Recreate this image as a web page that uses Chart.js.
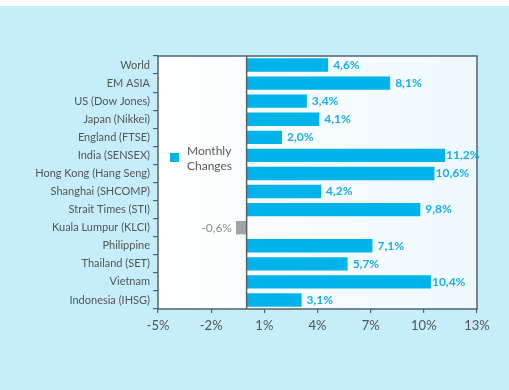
<!DOCTYPE html>
<html lang="en">

<head>
  <meta charset="UTF-8">
  <title>Monthly Changes</title>
  <script src="https://cdn.jsdelivr.net/npm/chart.js@4.4.0/dist/chart.umd.min.js"></script>
  <style>
    * {
      box-sizing: border-box;
      margin: 0;
      padding: 0;
    }

    body {
      width: 509px;
      height: 390px;
      background: #fff;
      overflow: hidden;
    }

    #wrap {
      position: absolute;
      left: 0;
      top: 6px;
      width: 509px;
      height: 384px;
      background: #c6eefa;
    }
  </style>
</head>

<body>
  <div id="wrap"><canvas id="myChart" width="509" height="384"></canvas></div>

  <script>
    const markets = ['World', 'EM ASIA', 'US (Dow Jones)', 'Japan (Nikkei)', 'England (FTSE)',
      'India (SENSEX)', 'Hong Kong (Hang Seng)', 'Shanghai (SHCOMP)', 'Strait Times (STI)',
      'Kuala Lumpur (KLCI)', 'Philippine', 'Thailand (SET)', 'Vietnam', 'Indonesia (IHSG)'];
    const changes = [4.6, 8.1, 3.4, 4.1, 2.0, 11.2, 10.6, 4.2, 9.8, -0.6, 7.1, 5.7, 10.4, 3.1];
    const xTicks = [-5, -2, 1, 4, 7, 10, 13];

    const FONT = 'Lato, sans-serif';
    const CYAN = '#00b3ea';
    const GREY = '#a3a3a3';
    const LINE = '#55616b';

    function fmt(v) {
      return v.toFixed(1).replace('.', ',') + '%';
    }

    // white plot area, frame, zero line, value labels and the little legend
    const decor = {
      id: 'decor',
      beforeDatasetsDraw(chart) {
        const { ctx, chartArea: a } = chart;
        ctx.save();
        let g = ctx.createLinearGradient(a.left, 0, a.right, 0);
        g.addColorStop(0, '#ffffff');
        g.addColorStop(1, '#eef9fd');
        ctx.fillStyle = g;
        ctx.fillRect(a.left, a.top, a.right - a.left, a.bottom - a.top);
        ctx.restore();
      },
      afterDatasetsDraw(chart) {
        const { ctx, chartArea: a } = chart;
        const x0 = chart.scales.x.getPixelForValue(0);
        ctx.save();
        ctx.strokeStyle = LINE;
        ctx.lineWidth = 1.5;
        ctx.strokeRect(a.left, a.top, a.right - a.left, a.bottom - a.top);
        ctx.beginPath();
        ctx.moveTo(x0, a.top);
        ctx.lineTo(x0, a.bottom);
        ctx.stroke();

        // value labels
        let meta = chart.getDatasetMeta(0);
        ctx.textBaseline = 'middle';
        meta.data.forEach((bar, i) => {
          let v = changes[i];
          if (v < 0) {
            ctx.font = '12px ' + FONT;
            ctx.fillStyle = '#8c8c8c';
            ctx.textAlign = 'right';
            ctx.fillText(fmt(v), bar.x - 4, bar.y);
          } else {
            ctx.font = 'bold 12px ' + FONT;
            ctx.fillStyle = '#19ade6';
            ctx.textAlign = 'left';
            let off = v > 10 ? 1 : 5;
            ctx.fillText(fmt(v), bar.x + off, bar.y);
          }
        });

        // legend
        ctx.fillStyle = CYAN;
        ctx.fillRect(a.left + 12, a.top + 97, 9, 9);
        ctx.font = '12px ' + FONT;
        ctx.fillStyle = '#5a5a5a';
        ctx.textAlign = 'left';
        ctx.fillText('Monthly', a.left + 29, a.top + 95);
        ctx.fillText('Changes', a.left + 29, a.top + 110);
        ctx.restore();
      }
    };

    let context = document.getElementById('myChart').getContext('2d');
    let chart = new Chart(context, {
      type: 'bar',
      data: {
        labels: markets,
        datasets: [{
          label: 'Monthly Changes',
          data: changes,
          backgroundColor: changes.map(v => v < 0 ? GREY : CYAN),
          borderWidth: 0,
          barPercentage: 0.74,
          categoryPercentage: 1,
        }]
      },
      options: {
        indexAxis: 'y',
        responsive: false,
        animation: false,
        layout: {
          padding: { left: 0, right: 32, top: 50, bottom: 51 }
        },
        plugins: {
          legend: { display: false },
          tooltip: { enabled: false }
        },
        scales: {
          x: {
            min: -5,
            max: 13,
            afterBuildTicks: (s) => { s.ticks = xTicks.map(v => ({ value: v })); },
            afterFit: (s) => { s.height = 30; },
            border: { display: false },
            grid: { drawOnChartArea: false, tickLength: 4, color: LINE, lineWidth: 1.2 },
            ticks: {
              color: '#555',
              font: { family: FONT, size: 13 },
              padding: 5,
              callback: (v) => v + '%'
            }
          },
          y: {
            afterFit: (s) => { s.width = 158; },
            border: { display: false },
            grid: { drawOnChartArea: false, offset: true, tickLength: 5, color: LINE, lineWidth: 1.2 },
            ticks: {
              color: '#555',
              font: { family: FONT, size: 11 },
              padding: 3,
              autoSkip: false
            }
          }
        }
      },
      plugins: [decor]
    });
  </script>
</body>

</html>
